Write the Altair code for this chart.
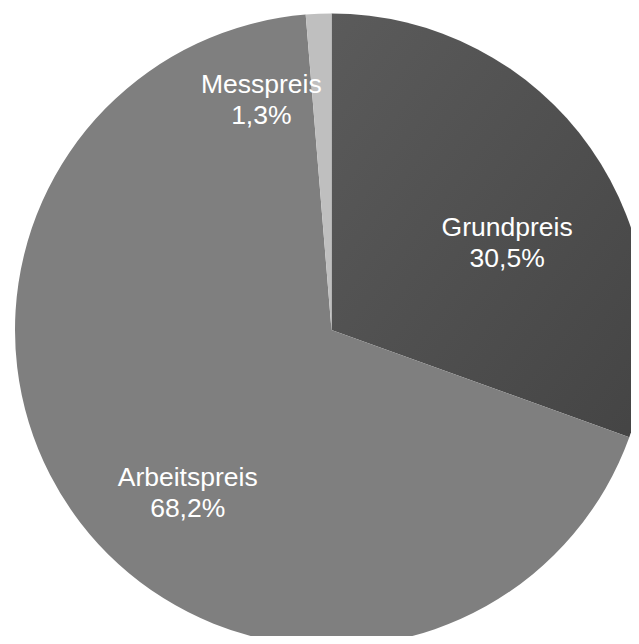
import altair as alt
import pandas as pd

categories = ["Grundpreis", "Arbeitspreis", "Messpreis"]
shares = [30.5, 68.2, 1.3]
labels = ["30,5%", "68,2%", "1,3%"]
colors = ["#525252", "#7f7f7f", "#bfbfbf"]

df = pd.DataFrame({"cat": categories, "share": shares, "pct": labels, "order": [0, 1, 2]})

W, H = 623, 628
CX, CY, R = 323.5, 322, 316.5

theta_scale = alt.Scale(domain=[0, 100], range=[0, 6.283185307])

base = (
    alt.Chart(df)
    .transform_window(end="sum(share)", sort=[alt.SortField("order")], frame=[None, 0])
    .transform_calculate(start="datum.end - datum.share", mid="datum.end - datum.share/2",
                         txt="[datum.cat, datum.pct]")
)

grund = base.transform_filter(alt.datum.cat == "Grundpreis").mark_arc(
    radius=R, x=CX, y=CY,
    fill=alt.Gradient(gradient="linear", x1=0, y1=0, x2=1, y2=1,
                      stops=[alt.GradientStop(color="#5b5b5b", offset=0),
                             alt.GradientStop(color="#444444", offset=1)]),
).encode(theta=alt.Theta("start:Q", scale=theta_scale), theta2="end:Q")

others = base.transform_filter(alt.datum.cat != "Grundpreis").mark_arc(
    radius=R, x=CX, y=CY
).encode(
    theta=alt.Theta("start:Q", scale=theta_scale), theta2="end:Q",
    color=alt.Color("cat:N", scale=alt.Scale(domain=categories, range=colors), legend=None),
)

def label(cat, dx, dy):
    return base.transform_filter(alt.datum.cat == cat).mark_text(
        x=CX, y=CY, radius=200, dx=dx, dy=dy, color="white", font="Liberation Sans",
        fontSize=26.5, lineHeight=31, align="center", baseline="middle",
    ).encode(theta=alt.Theta("mid:Q", scale=theta_scale), text=alt.Text("txt:N"))

chart = alt.layer(
    grund, others,
    label("Grundpreis", 12, 13),
    label("Arbeitspreis", 15, 26),
    label("Messpreis", -62, -45),
).properties(
    width=W, height=H, padding=0, autosize=alt.AutoSizeParams(type="none"),
).configure_view(stroke=None)

chart.save("out.html", embed_options={"renderer": "svg", "actions": False})
